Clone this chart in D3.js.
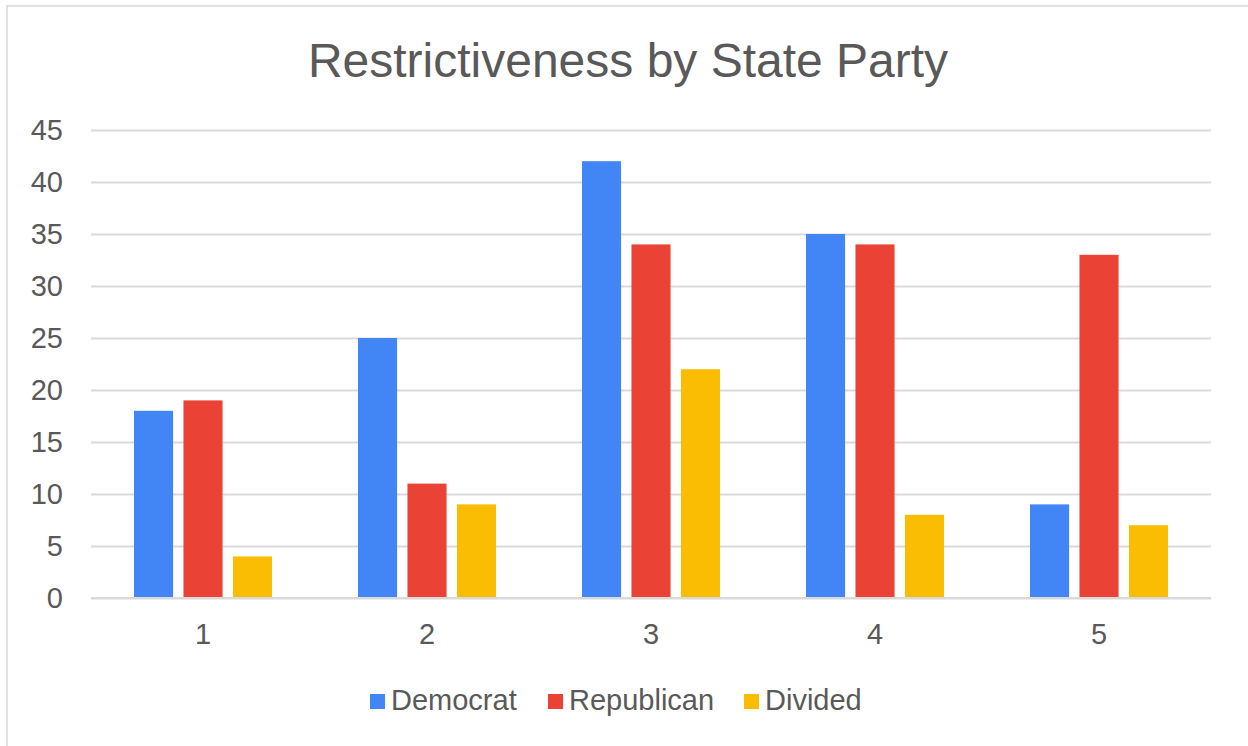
<!DOCTYPE html>
<html>
<head>
<meta charset="utf-8">
<script src="https://cdn.jsdelivr.net/npm/d3@7"></script>
<style>
  html, body { margin: 0; padding: 0; background: #fff; }
  svg { display: block; font-family: "Liberation Sans", Arial, sans-serif; }
</style>
</head>
<body>
<svg id="chart" width="1248" height="746"></svg>
<script>
// Restrictiveness scores grouped by category, one series per state party control
const categories = ["1", "2", "3", "4", "5"];
const seriesNames = ["Democrat", "Republican", "Divided"];
const democrat = [18, 25, 42, 35, 9];
const republican = [19, 11, 34, 34, 33];
const divided = [4, 9, 22, 8, 7];
const yTicks = [0, 5, 10, 15, 20, 25, 30, 35, 40, 45];
const colors = ["#4285f4", "#ea4335", "#fbbc04"];

const seriesValues = [democrat, republican, divided];
const rows = categories.map((c, i) => ({
  category: c,
  values: seriesNames.map((s, j) => ({ series: s, value: seriesValues[j][i], color: colors[j] }))
}));

const svg = d3.select("#chart");
const textColor = "#595959";
const gridColor = "#d9d9d9";

// Outer frame
svg.append("rect")
  .attr("x", 7).attr("y", 6)
  .attr("width", 1245).attr("height", 760)
  .attr("fill", "none")
  .attr("stroke", gridColor)
  .attr("stroke-width", 1.6);

// Title
svg.append("text")
  .attr("x", 628).attr("y", 77)
  .attr("text-anchor", "middle")
  .attr("font-size", 48)
  .attr("fill", textColor)
  .text("Restrictiveness by State Party");

const plot = { left: 91, right: 1211, top: 130, bottom: 598 };

const x = d3.scaleBand()
  .domain(categories)
  .range([plot.left, plot.right])
  .paddingInner(0).paddingOuter(0);

const groupHalf = 69;
const xInner = d3.scaleBand()
  .domain(seriesNames)
  .range([-groupHalf, groupHalf])
  .paddingInner(0.21).paddingOuter(0);

const y = d3.scaleLinear()
  .domain([0, 45])
  .range([plot.bottom, plot.top]);

// Horizontal gridlines and y tick labels
const yAxis = d3.axisLeft(y)
  .tickValues(yTicks)
  .tickSize(-(plot.right - plot.left))
  .tickPadding(28);

const yG = svg.append("g")
  .attr("transform", `translate(${plot.left},0)`)
  .call(yAxis);
yG.select(".domain").remove();
yG.selectAll(".tick line").attr("stroke", gridColor).attr("stroke-width", 2);
yG.selectAll(".tick text")
  .attr("fill", textColor)
  .attr("font-size", 29)
  .attr("font-family", "Liberation Sans, Arial, sans-serif");

// Bars
const groups = svg.append("g").selectAll("g")
  .data(rows)
  .join("g")
  .attr("transform", d => `translate(${x(d.category) + x.bandwidth() / 2},0)`);

groups.selectAll("rect")
  .data(d => d.values)
  .join("rect")
  .attr("x", d => xInner(d.series))
  .attr("width", xInner.bandwidth())
  .attr("y", d => y(d.value))
  .attr("height", d => y(0) - y(d.value))
  .attr("fill", d => d.color);

// Baseline redrawn above bars
svg.append("line")
  .attr("x1", plot.left).attr("x2", plot.right)
  .attr("y1", y(0)).attr("y2", y(0))
  .attr("stroke", gridColor).attr("stroke-width", 2);

// Category labels
const xAxis = d3.axisBottom(x).tickSize(0).tickPadding(0);
const xG = svg.append("g")
  .attr("transform", `translate(0,${plot.bottom})`)
  .call(xAxis);
xG.select(".domain").remove();
xG.selectAll(".tick text")
  .attr("y", 46)
  .attr("dy", null)
  .attr("fill", textColor)
  .attr("font-size", 29)
  .attr("font-family", "Liberation Sans, Arial, sans-serif");

// Legend
const legendX = [370, 548, 744];
const legend = svg.append("g");
seriesNames.forEach((name, i) => {
  const g = legend.append("g").attr("transform", `translate(${legendX[i]},0)`);
  g.append("rect")
    .attr("x", 0).attr("y", 694)
    .attr("width", 15).attr("height", 15)
    .attr("fill", colors[i]);
  g.append("text")
    .attr("x", 21).attr("y", 710)
    .attr("font-size", 29)
    .attr("fill", textColor)
    .text(name);
});
</script>
</body>
</html>
